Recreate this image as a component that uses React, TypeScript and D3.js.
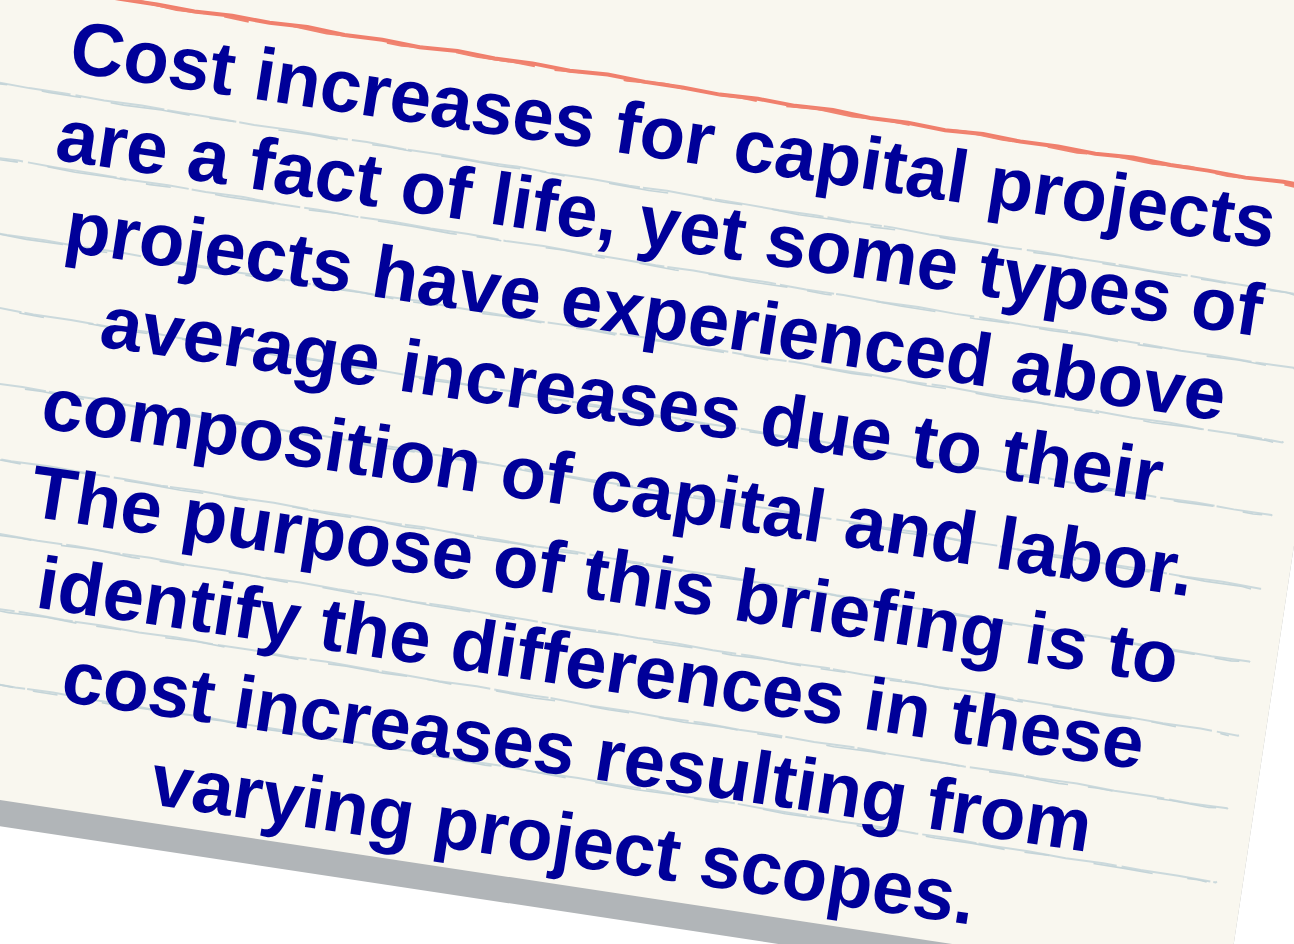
import React from 'react';
import * as d3 from 'd3';

// Note text, one entry per printed line
const TEXT_LINES = [
  'Cost increases for capital projects',
  'are a fact of life, yet some types of',
  'projects have experienced above',
  'average increases due to their',
  'composition of capital and labor.',
  'The purpose of this briefing is to',
  'identify the differences in these',
  'cost increases resulting from',
  'varying project scopes.',
];

// ruled lines on the card (index of each rule)
const RULES = [0, 1, 2, 3, 4, 5, 6, 7, 8];

// small wobble pattern for the hand drawn strokes
const JAG = [0, 0.9, -0.6, 0.4, -1.1, 0.7, -0.3, 1.0, -0.8, 0.5, -0.4, 0.8, -1.0, 0.2];
const DASH_A = '70 3 110 4 55 2 140 5 90 3';
const DASH_B = '40 30 80 20 25 45 60 35';

const W = 1294;
const H = 944;
const ANGLE = 8.6; // card tilt in degrees

const CARD = { left: -400, top: -400, right: 1361, bottom: 791 };

const App: React.FC = () => {
  // line index -> baseline position inside the tilted card
  const lineY = d3.scaleLinear().domain([0, TEXT_LINES.length - 1]).range([58, 771]);
  const ruleY = d3.scaleLinear().domain([0, RULES.length - 1]).range([82, 82 + 74.2 * 8]);

  const sketch = (x0: number, x1: number, y0: number, slope: number, amp: number, phase: number) => {
    const pts: [number, number][] = d3.range(x0, x1, 38).concat([x1]).map((x, i) => [
      x,
      y0 + slope * x + JAG[(i + phase) % JAG.length] * amp,
    ]);
    return d3.line().curve(d3.curveLinear)(pts) || '';
  };

  return (
    <svg
      width={W}
      height={H}
      style={{ position: 'fixed', left: 0, top: 0, background: '#ffffff' }}
    >
      <g transform={`rotate(${ANGLE})`}>
        {/* drop shadow */}
        <rect
          x={CARD.left}
          y={CARD.top + 26}
          width={CARD.right - CARD.left}
          height={CARD.bottom - CARD.top}
          fill="#b1b5b8"
        />
        {/* card */}
        <rect
          x={CARD.left}
          y={CARD.top}
          width={CARD.right - CARD.left}
          height={CARD.bottom - CARD.top}
          fill="#f9f7ef"
        />

        {/* ruled lines */}
        {RULES.map((r) => (
          <g key={r}>
            <path
              d={sketch(-300, 1335, ruleY(r), 0.011, 0.6, r * 3)}
              fill="none"
              stroke="#cbd9dc"
              strokeWidth={2}
              strokeDasharray={DASH_A}
              strokeDashoffset={r * 37}
            />
            <path
              d={sketch(-280, 1325, ruleY(r) + 1.2, 0.011, 0.8, r * 5 + 4)}
              fill="none"
              stroke="#c4d4d8"
              strokeWidth={1.6}
              strokeDasharray={DASH_B}
              strokeDashoffset={r * 53}
            />
          </g>
        ))}

        {/* red margin line */}
        <path
          d={sketch(-300, 1361, -20, 0.0066, 1.2, 2)}
          fill="none"
          stroke="#f07f6c"
          strokeWidth={4}
        />
        <path
          d={sketch(-280, 1350, -19, 0.0066, 1.6, 7)}
          fill="none"
          stroke="#f08470"
          strokeWidth={2.5}
          strokeDasharray={DASH_B}
        />

        {/* note text */}
        <g transform="translate(686,0) rotate(-0.25) skewX(-0.5)">
          {TEXT_LINES.map((t, i) => (
            <text
              key={i}
              x={0}
              y={lineY(i)}
              textAnchor="middle"
              fontFamily="'Liberation Sans', Arial, sans-serif"
              fontWeight="bold"
              fontSize={74.5}
              fill="#000099"
            >
              {t}
            </text>
          ))}
        </g>
      </g>
    </svg>
  );
};

export default App;
